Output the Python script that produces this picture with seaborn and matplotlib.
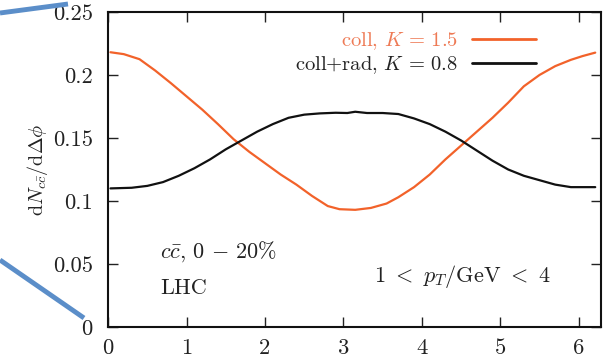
import matplotlib
matplotlib.use("Agg")
import matplotlib.pyplot as plt
from matplotlib.lines import Line2D
import numpy as np
import pandas as pd
import seaborn as sns

# Azimuthal correlation of c c-bar pairs, 0-20% centrality at the LHC
phi_coll = [0.03, 0.2, 0.4, 0.6, 0.8, 1.0, 1.2, 1.4, 1.6, 1.8, 2.0, 2.2,
            2.4, 2.6, 2.8, 2.95, 3.15, 3.35, 3.55, 3.7, 3.9, 4.1, 4.3, 4.5,
            4.7, 4.9, 5.1, 5.3, 5.5, 5.7, 5.9, 6.05, 6.21]
dn_coll = [0.218, 0.2165, 0.2125, 0.2035, 0.1935, 0.183, 0.1725, 0.161,
           0.149, 0.139, 0.130, 0.121, 0.113, 0.104, 0.096, 0.0935, 0.093,
           0.0945, 0.098, 0.103, 0.111, 0.121, 0.133, 0.144, 0.155, 0.166,
           0.178, 0.191, 0.200, 0.207, 0.212, 0.215, 0.2177]

phi_rad = [0.03, 0.3, 0.5, 0.7, 0.9, 1.1, 1.3, 1.5, 1.7, 1.9, 2.1, 2.3,
           2.5, 2.7, 2.9, 3.05, 3.15, 3.3, 3.5, 3.7, 3.9, 4.1, 4.3, 4.5,
           4.7, 4.9, 5.1, 5.3, 5.5, 5.7, 5.9, 6.21]
dn_rad = [0.110, 0.1105, 0.112, 0.115, 0.120, 0.126, 0.133, 0.141, 0.148,
          0.155, 0.161, 0.166, 0.1685, 0.1695, 0.170, 0.1698, 0.1708,
          0.1698, 0.1698, 0.169, 0.1655, 0.161, 0.155, 0.148, 0.140, 0.132,
          0.125, 0.120, 0.1165, 0.113, 0.111, 0.111]

label_coll = r"coll, $K\,=\,1.5$"
label_rad = r"coll+rad, $K\,=\,0.8$"
color_coll = "#f2622a"
color_rad = "#111111"

x_ticks = [0, 1, 2, 3, 4, 5, 6]
y_ticks = [0, 0.05, 0.1, 0.15, 0.2, 0.25]
y_tick_labels = ["0", "0.05", "0.1", "0.15", "0.2", "0.25"]

sns.set_style("ticks")
plt.rcParams.update({
    "font.family": "serif",
    "font.serif": ["cmr10", "DejaVu Serif"],
    "mathtext.fontset": "cm",
    "axes.formatter.use_mathtext": True,
    "font.size": 15,
})

fs_tick = 16.3
fs_note = 16
fs_leg = 14.8
fig = plt.figure(figsize=(6.04, 3.61), dpi=100)
ax = fig.add_axes([0.179, 0.094, 0.816, 0.873])

df_coll = pd.DataFrame({"phi": phi_coll, "dn": dn_coll})
df_rad = pd.DataFrame({"phi": phi_rad, "dn": dn_rad})
sns.lineplot(data=df_coll, x="phi", y="dn", ax=ax, color=color_coll,
             lw=1.6, sort=False)
sns.lineplot(data=df_rad, x="phi", y="dn", ax=ax, color=color_rad,
             lw=1.6, sort=False)

ax.set_xlim(0, 2 * np.pi)
ax.set_ylim(0, 0.25)
ax.set_xticks(x_ticks)
ax.set_xticklabels([str(t) for t in x_ticks])
ax.set_yticks(y_ticks)
ax.set_yticklabels(y_tick_labels)
ax.tick_params(direction="in", length=7, width=1.0, top=True, right=True,
               labelsize=fs_tick, color="#222222", labelcolor="#222222")
ax.tick_params(axis="x", pad=8)
ax.tick_params(axis="y", pad=11)
for s in ax.spines.values():
    s.set_linewidth(1.5)
    s.set_color("#111111")

ax.set_xlabel("")
ax.set_ylabel(r"$\mathrm{d}N_{c\bar{c}}/\mathrm{d}\Delta\phi$", fontsize=14.5,
              color="#222222")
ax.yaxis.set_label_coords(-0.118, 0.5)

handles = [Line2D([], [], color=color_coll, lw=2.0),
           Line2D([], [], color=color_rad, lw=2.0)]
leg = ax.legend(handles, [label_coll, label_rad], loc="upper right",
                bbox_to_anchor=(0.888, 0.975), frameon=False,
                markerfirst=False, handlelength=3.1, handletextpad=0.65,
                labelspacing=0.12, borderpad=0, fontsize=fs_leg)
leg.get_texts()[0].set_color("#ee7a55")
leg.get_texts()[1].set_color("#222222")

ax.text(0.105, 0.238, r"$c\bar{c}$, $0\,-\,20\%$", transform=ax.transAxes,
        ha="left", va="center", fontsize=fs_note, color="#222222")
ax.text(0.105, 0.124, "LHC", transform=ax.transAxes,
        ha="left", va="center", fontsize=fs_note, color="#222222")
ax.text(0.897, 0.159, r"$1\ <\ p_T/\mathrm{GeV}\ <\ 4$",
        transform=ax.transAxes, ha="right", va="center", fontsize=fs_note,
        color="#222222")

# callout lines of the slide this panel sits on
blue = "#5b8ec9"
fig.add_artist(Line2D([0, 68 / 604], [1 - 13 / 361, 1 - 4 / 361],
                      transform=fig.transFigure, color=blue, lw=3.5,
                      solid_capstyle="butt"))
fig.add_artist(Line2D([0, 84 / 604], [1 - 260 / 361, 1 - 318 / 361],
                      transform=fig.transFigure, color=blue, lw=3.5,
                      solid_capstyle="butt"))

fig.savefig("out.png", dpi=100)
